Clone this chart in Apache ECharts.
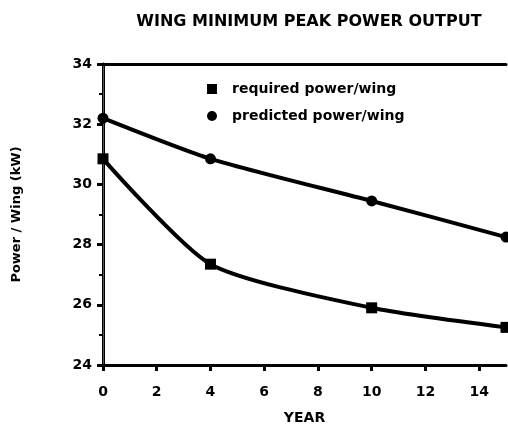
<!DOCTYPE html>
<html>
<head>
<meta charset="utf-8">
<script src="https://cdn.jsdelivr.net/npm/echarts@6/dist/echarts.min.js"></script>
<style>
html, body { margin: 0; padding: 0; background: #fff; }
#chart { width: 508px; height: 434px; }
</style>
</head>
<body>
<div id="chart"></div>
<script>
// values
var years = [0, 4, 10, 15]
var requiredPower = [30.85, 27.35, 25.9, 25.25]
var predictedPower = [32.2, 30.85, 29.45, 28.25]
var seriesNames = ['required power/wing', 'predicted power/wing']

var font = 'DejaVu Sans'
var dom = document.getElementById('chart')
var chart = echarts.init(dom)

function pairs(xs, ys) {
    return xs.map(function (x, i) { return [x, ys[i]] })
}

var option = {
    animation: false,
    title: {
        text: 'WING MINIMUM PEAK POWER OUTPUT',
        left: 304,
        textAlign: 'center',
        top: 9,
        textStyle: { fontFamily: font, fontSize: 16, fontWeight: 'bold', color: '#000' }
    },
    legend: {
        orient: 'vertical',
        left: 202,
        top: 77,
        itemGap: 13,
        itemWidth: 10,
        itemHeight: 10,
        data: [
            { name: seriesNames[0], icon: 'rect' },
            { name: seriesNames[1], icon: 'circle' }
        ],
        textStyle: { fontFamily: font, fontSize: 14, fontWeight: 'bold', color: '#000', padding: [0, 0, 0, 10] }
    },
    grid: { left: 103, right: 2, top: 64, bottom: 69 },
    xAxis: [{
        type: 'value',
        min: 0,
        max: 15,
        interval: 2,
        name: 'YEAR',
        nameLocation: 'middle',
        nameGap: 46,
        nameTextStyle: { fontFamily: font, fontSize: 14, fontWeight: 'bold', color: '#000' },
        axisLine: { lineStyle: { color: '#000', width: 3 } },
        axisTick: { length: 6, lineStyle: { color: '#000', width: 3 } },
        axisLabel: { fontFamily: font, fontSize: 14, fontWeight: 'bold', color: '#000', margin: 20, showMaxLabel: false },
        splitLine: { show: false }
    }, {
        type: 'value',
        position: 'top',
        min: 0,
        max: 15,
        axisLine: { show: true, lineStyle: { color: '#000', width: 3 } },
        axisTick: { show: false },
        axisLabel: { show: false },
        splitLine: { show: false }
    }],
    yAxis: [{
        type: 'value',
        min: 24,
        max: 34,
        interval: 2,
        name: 'Power / Wing (kW)',
        nameLocation: 'middle',
        nameGap: 80,
        nameTextStyle: { fontFamily: font, fontSize: 13, fontWeight: 'bold', color: '#000' },
        axisLine: { show: true, lineStyle: { color: '#000', width: 3 } },
        axisTick: { length: 6, lineStyle: { color: '#000', width: 3 } },
        minorTick: { show: true, splitNumber: 2, length: 4, lineStyle: { color: '#000', width: 2 } },
        axisLabel: { fontFamily: font, fontSize: 14, fontWeight: 'bold', color: '#000', margin: 11 },
        splitLine: { show: false }
    }, {
        type: 'value',
        position: 'right',
        min: 24,
        max: 34,
        axisLine: { show: true, lineStyle: { color: '#555', width: 1 } },
        axisTick: { show: false },
        axisLabel: { show: false },
        splitLine: { show: false }
    }],
    series: [{
        name: seriesNames[0],
        type: 'line',
        smooth: 0.22,
        data: pairs(years, requiredPower),
        symbol: 'rect',
        symbolSize: 11,
        lineStyle: { color: '#000', width: 4 },
        itemStyle: { color: '#000' }
    }, {
        name: seriesNames[1],
        type: 'line',
        smooth: 0.22,
        data: pairs(years, predictedPower),
        symbol: 'circle',
        symbolSize: 11,
        lineStyle: { color: '#000', width: 4 },
        itemStyle: { color: '#000' }
    }]
}
chart.setOption(option)
</script>
</body>
</html>
